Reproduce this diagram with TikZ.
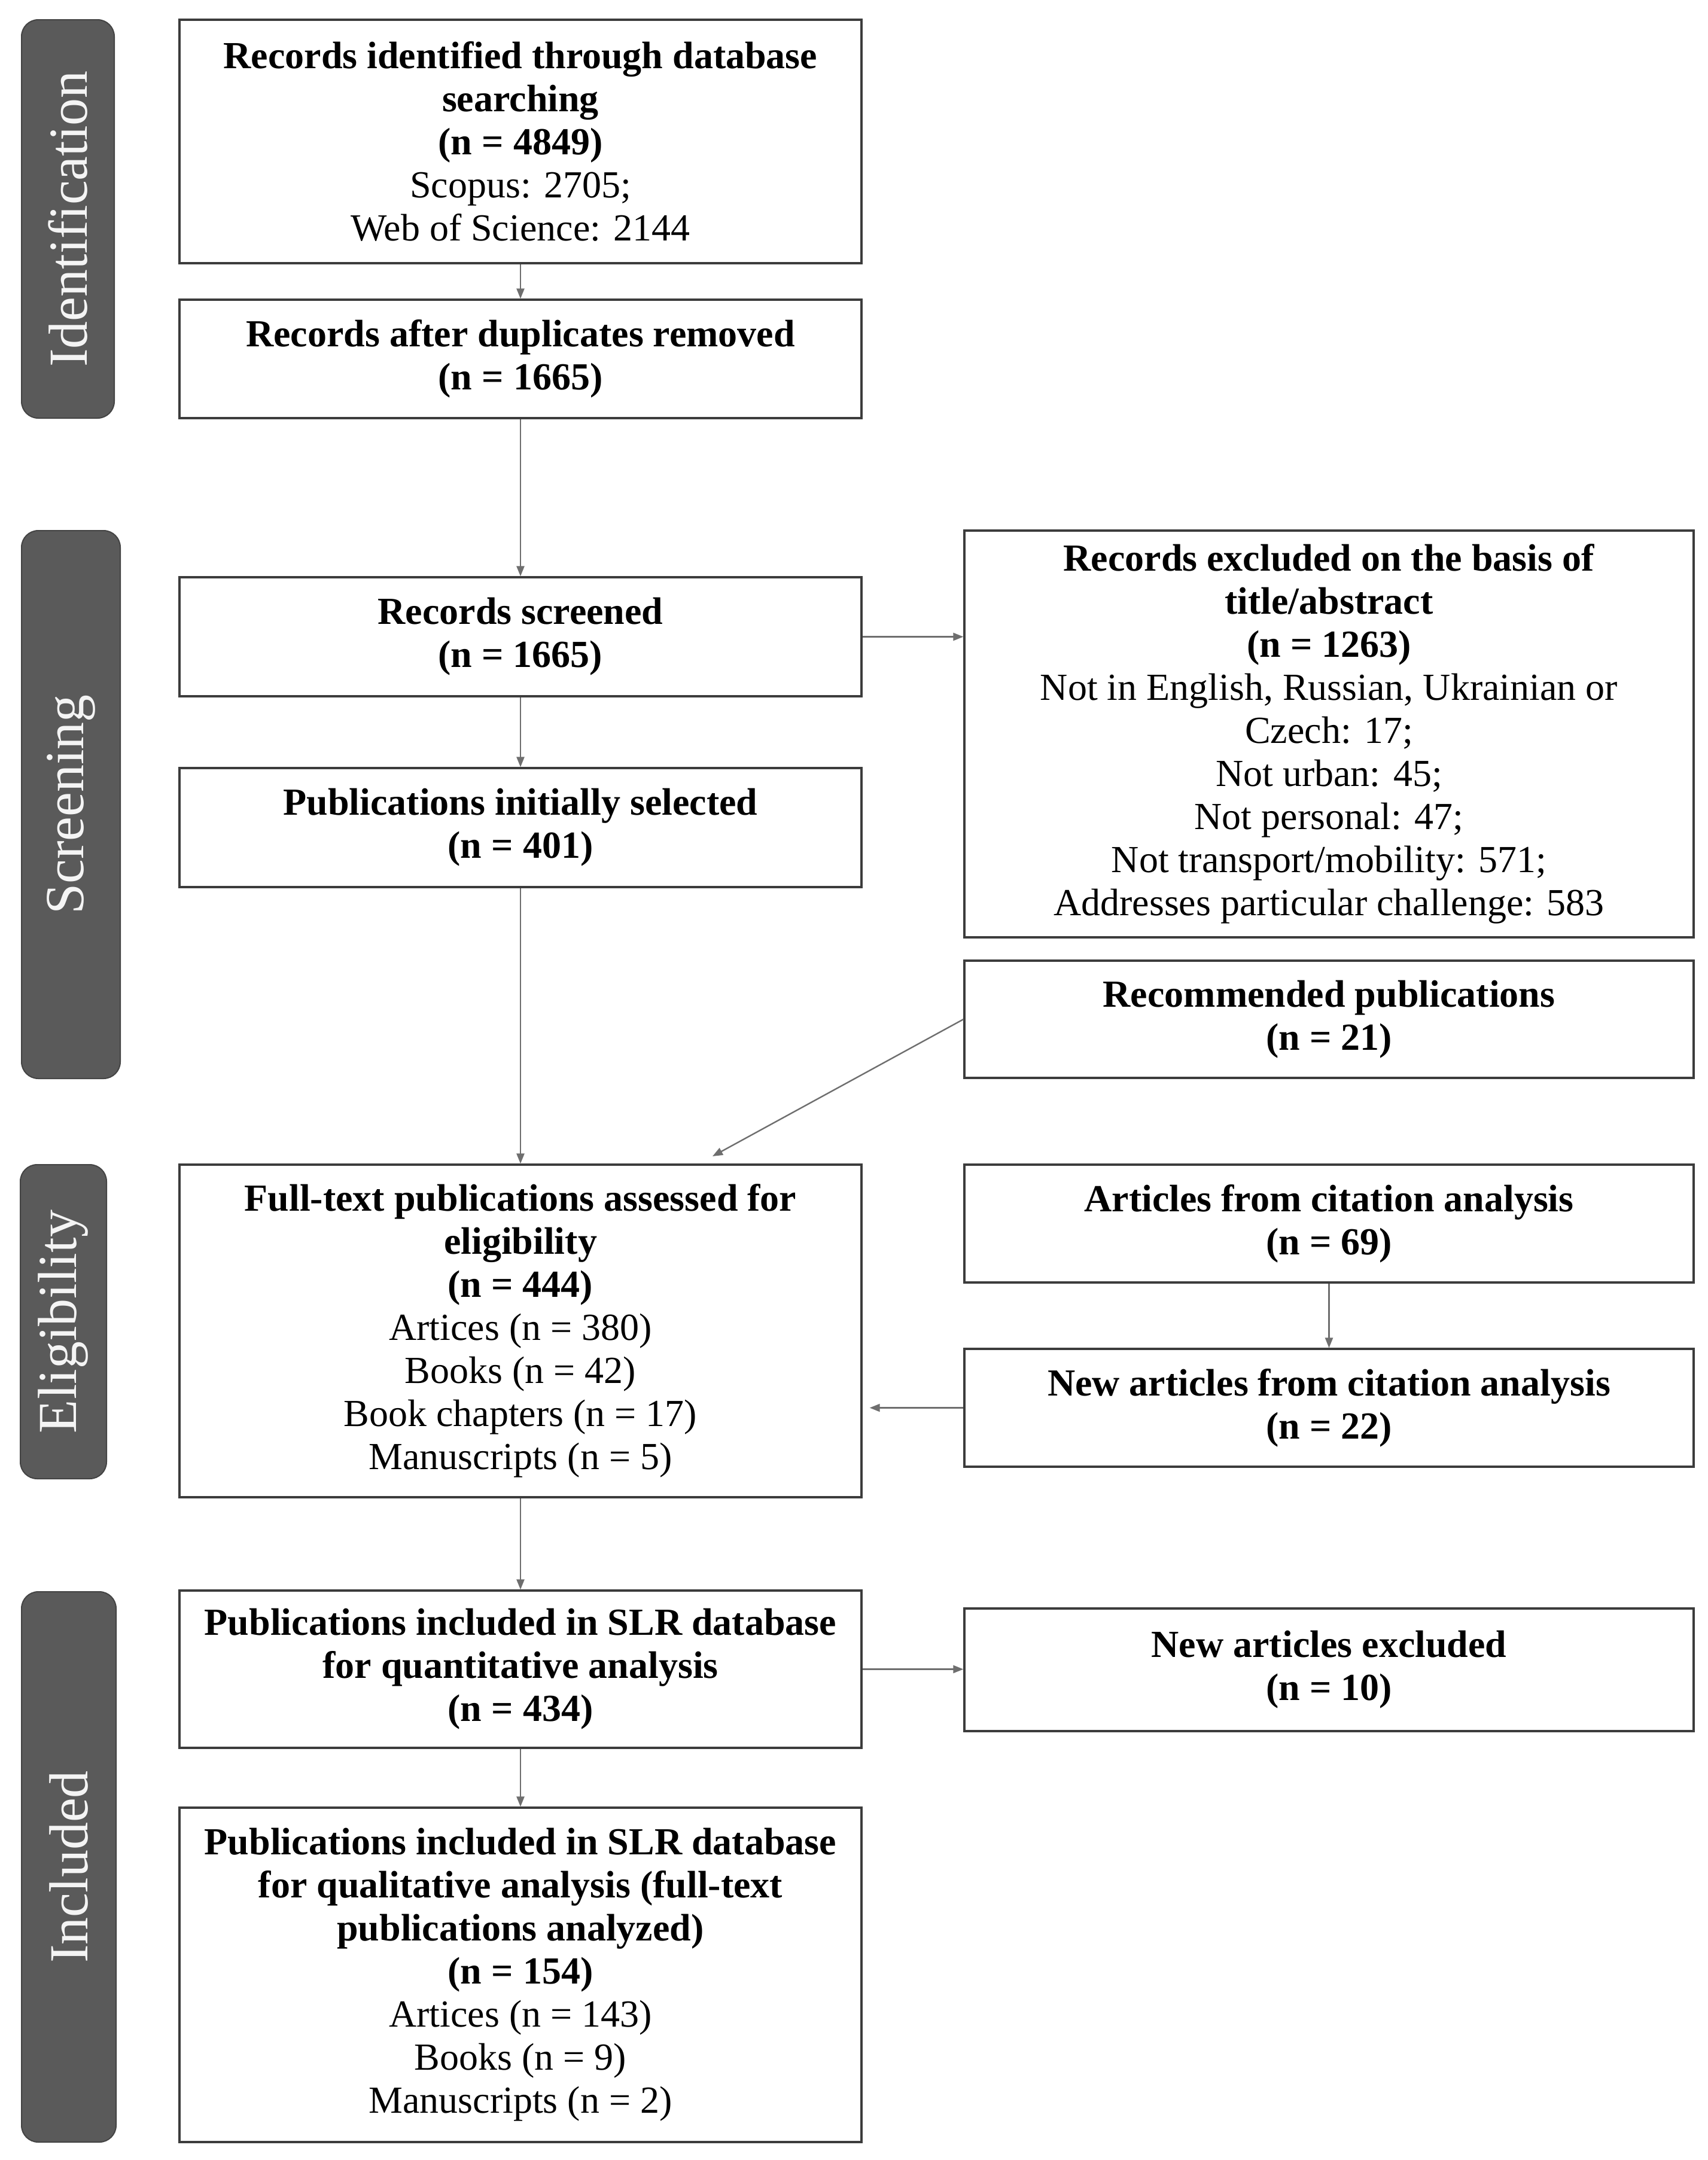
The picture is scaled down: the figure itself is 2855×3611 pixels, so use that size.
\documentclass[tikz,border=0pt]{standalone}
\usepackage{fontspec}
\setmainfont{Liberation Serif}
\usetikzlibrary{arrows.meta,calc}
\definecolor{labfill}{HTML}{5A5A5A}
\definecolor{labdraw}{HTML}{444444}
\definecolor{bordcol}{HTML}{3C3C3C}
\definecolor{conncol}{HTML}{6E6E6E}
\definecolor{labtext}{HTML}{F4F4F4}
\begin{document}
\begin{tikzpicture}[x=1pt,y=-1pt,
  box/.style={draw=bordcol, line width=3.3pt, fill=white, inner sep=0pt, align=center,
    font=\fontsize{64}{72}\selectfont, text=black},
  lbox/.style={box, minimum width=1140pt},
  rbox/.style={box, minimum width=1219pt},
  phase/.style={draw=labdraw, fill=labfill, line width=2pt, rounded corners=28pt, inner sep=0pt,
    rotate=90, text=labtext, font=\fontsize{92}{100}\selectfont},
  conn/.style={draw=conncol, line width=2.4pt, -{Triangle[length=17pt,width=13pt]}}
]
\useasboundingbox (0,0) rectangle (2855,3611);
\fill[white] (0,0) rectangle (2855,3611);

% phase labels
\node[phase, minimum width=666pt, minimum height=155pt] (pid) at (113.5,366) {Identification};
\node[phase, minimum width=916pt, minimum height=165pt] (pscr) at (118.5,1345) {Screening};
\node[phase, minimum width=525pt, minimum height=144pt] (pel) at (106,2209.5) {Eligibility};
\node[phase, minimum width=920pt, minimum height=158pt] (pinc) at (115,3121) {Included};

% left column
\node[lbox, minimum height=407pt] (b1) at (870,236.5)
  {\textbf{Records identified through database}\\\textbf{searching}\\\textbf{(n = 4849)}\\Scopus: 2705;\\Web of Science: 2144};
\node[lbox, minimum height=198pt] (b2) at (870,600)
  {\textbf{Records after duplicates removed}\\\textbf{(n = 1665)}};
\node[lbox, minimum height=199pt] (scr) at (870,1064.5)
  {\textbf{Records screened}\\\textbf{(n = 1665)}};
\node[lbox, minimum height=199pt] (sel) at (870,1383.5)
  {\textbf{Publications initially selected}\\\textbf{(n = 401)}};
\node[lbox, minimum height=556pt] (ft) at (870,2225)
  {\textbf{Full-text publications assessed for}\\\textbf{eligibility}\\\textbf{(n = 444)}\\Artices (n = 380)\\Books (n = 42)\\Book chapters (n = 17)\\Manuscripts (n = 5)};
\node[lbox, minimum height=263pt] (quant) at (870,2790.5)
  {\textbf{Publications included in SLR database}\\\textbf{for quantitative analysis}\\\textbf{(n = 434)}};
\node[lbox, minimum height=559pt] (fin) at (870,3301.5)
  {\textbf{Publications included in SLR database}\\\textbf{for qualitative analysis (full-text}\\\textbf{publications analyzed)}\\\textbf{(n = 154)}\\Artices (n = 143)\\Books (n = 9)\\Manuscripts (n = 2)};

% right column
\node[rbox, minimum height=680pt] (excl) at (2221.5,1227)
  {\textbf{Records excluded on the basis of}\\\textbf{title/abstract}\\\textbf{(n = 1263)}\\Not in English, Russian, Ukrainian or\\Czech: 17;\\Not urban: 45;\\Not personal: 47;\\Not transport/mobility: 571;\\Addresses particular challenge: 583};
\node[rbox, minimum height=196pt] (rec) at (2221.5,1704)
  {\textbf{Recommended publications}\\\textbf{(n = 21)}};
\node[rbox, minimum height=197pt] (art) at (2221.5,2045.5)
  {\textbf{Articles from citation analysis}\\\textbf{(n = 69)}};
\node[rbox, minimum height=197pt] (newart) at (2221.5,2353.5)
  {\textbf{New articles from citation analysis}\\\textbf{(n = 22)}};
\node[rbox, minimum height=205pt] (newexcl) at (2221.5,2791.5)
  {\textbf{New articles excluded}\\\textbf{(n = 10)}};

\coordinate (ftin) at (1191,1933);

% connectors
\draw[conn] (b1) -- (b2);
\draw[conn] (b2) -- (scr);
\draw[conn] (scr) -- (scr -| excl.west);
\draw[conn] (scr) -- (sel);
\draw[conn] (sel) -- (ft);
\draw[conn] (rec.west) -- (ftin);
\draw[conn] (art) -- (newart);
\draw[conn, shorten >=12pt] (newart) -- (newart -| ft.east);
\draw[conn] (ft) -- (quant);
\draw[conn] (quant) -- (quant -| newexcl.west);
\draw[conn] (quant) -- (fin);
\end{tikzpicture}
\end{document}
